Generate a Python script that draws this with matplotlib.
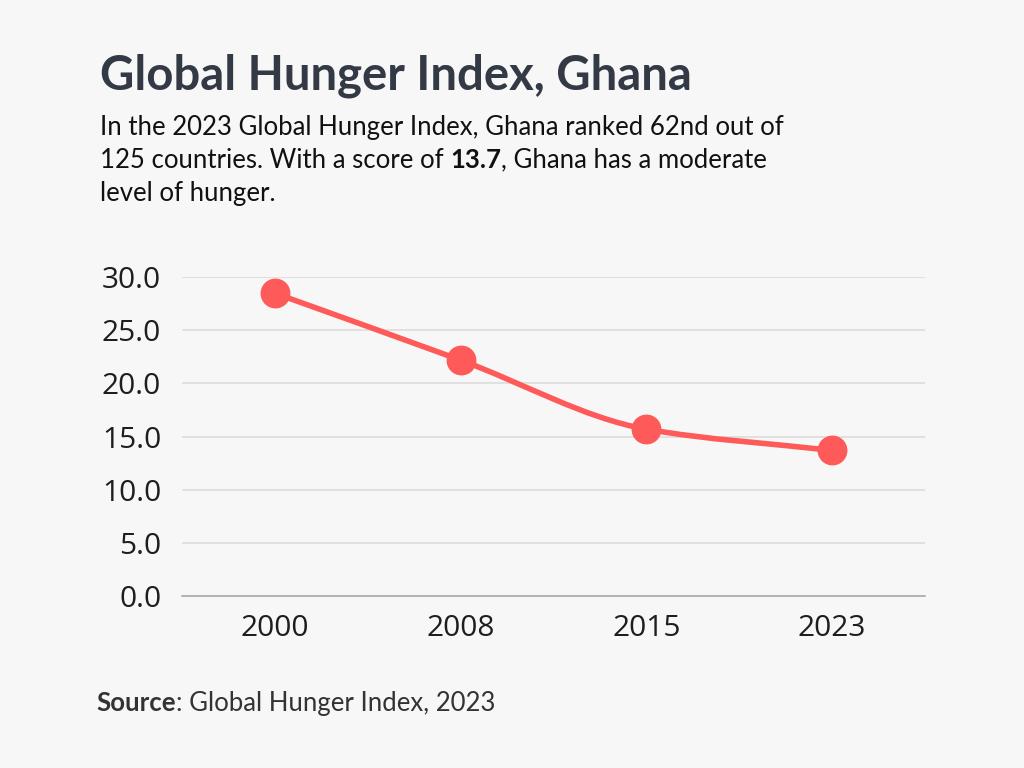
import numpy as np
import matplotlib.pyplot as plt
from matplotlib.path import Path
from matplotlib.patches import PathPatch

# Data
years = ['2000', '2008', '2015', '2023']
scores = [28.5, 22.2, 15.7, 13.7]
y_ticks = [0, 5, 10, 15, 20, 25, 30]

bg = '#f7f7f7'
red = '#ff5a5a'
dark = '#333a45'

plt.rcParams['font.family'] = ['Lato', 'DejaVu Sans']

fig = plt.figure(figsize=(10.24, 7.68), dpi=100, facecolor=bg)
ax = fig.add_axes([0.1777, 0.224, 0.7256, 0.415])
ax.set_facecolor(bg)

x = np.arange(len(years))
y = np.array(scores)

# monotone cubic curve through the points (like d3 curveMonotoneX)
d = np.diff(y) / np.diff(x)
m = np.zeros(len(y))
m[0], m[-1] = d[0], d[-1]
for i in range(1, len(y) - 1):
    m[i] = 0 if d[i - 1] * d[i] <= 0 else 2 / (1 / d[i - 1] + 1 / d[i])
verts = [(x[0], y[0])]
codes = [Path.MOVETO]
for i in range(len(x) - 1):
    h = x[i + 1] - x[i]
    verts += [(x[i] + h / 3, y[i] + m[i] * h / 3),
              (x[i + 1] - h / 3, y[i + 1] - m[i + 1] * h / 3),
              (x[i + 1], y[i + 1])]
    codes += [Path.CURVE4] * 3
ax.add_patch(PathPatch(Path(verts, codes), facecolor='none', edgecolor=red,
                       lw=4, capstyle='round', zorder=3))
ax.scatter(x, y, s=420, color=red, zorder=4, clip_on=False)

ax.set_xlim(-0.5, 3.5)
ax.set_ylim(0, 30)
ax.set_xticks(x)
ax.set_xticklabels(years)
ax.set_yticks(y_ticks)
ax.set_yticklabels(['%.1f' % t for t in y_ticks])
ax.grid(axis='y', color='#dcdcdc', lw=1.2)
ax.set_axisbelow(True)
for s in ['top', 'right', 'left']:
    ax.spines[s].set_visible(False)
ax.spines['bottom'].set_color('#a8a8a8')
ax.spines['bottom'].set_linewidth(1.2)
ax.tick_params(length=0, labelsize=21.5, labelcolor='#1e1e1e')
ax.tick_params(axis='y', pad=15)
ax.tick_params(axis='x', pad=13)
for lbl in ax.get_xticklabels() + ax.get_yticklabels():
    lbl.set_family(['Open Sans', 'DejaVu Sans'])

# title and subtitle
fig.text(100 / 1024, 1 - 76 / 768, 'Global Hunger Index, Ghana', fontsize=34,
         fontweight='bold', color=dark, va='center')

fs = 18.5
fig.text(100 / 1024, 1 - 128 / 768,
         'In the 2023 Global Hunger Index, Ghana ranked 62nd out of',
         fontsize=fs, color='#111111', va='center')
fig.text(100 / 1024, 1 - 193 / 768, 'level of hunger.',
         fontsize=fs, color='#111111', va='center')

renderer = fig.canvas.get_renderer()


def run_text(xpx, ypx, parts, size, color):
    # write pieces of differing weight one after another on a line
    for txt, weight in parts:
        t = fig.text(xpx / 1024, 1 - ypx / 768, txt, fontsize=size,
                     fontweight=weight, color=color, va='center')
        xpx = t.get_window_extent(renderer).x1


run_text(100, 160, [('125 countries. With a score of ', 'normal'),
                    ('13.7', 'bold'),
                    (', Ghana has a moderate', 'normal')], fs, '#111111')
run_text(96, 703, [('Source', 'bold'),
                   (': Global Hunger Index, 2023', 'normal')], fs, '#333333')

fig.savefig('out.png', dpi=100, facecolor=bg)
